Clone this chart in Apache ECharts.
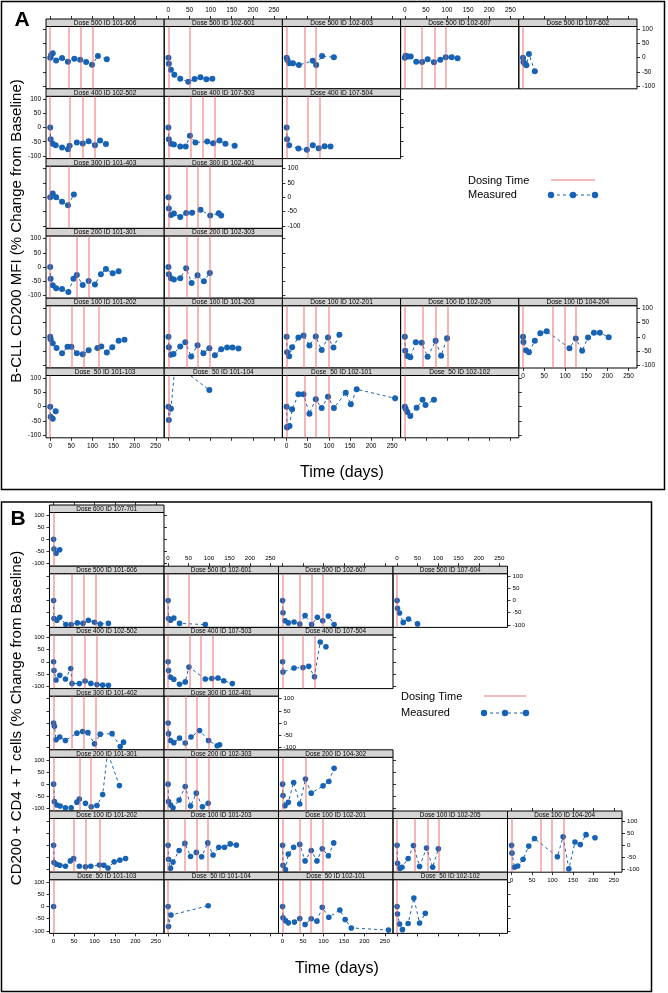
<!DOCTYPE html>
<html><head><meta charset="utf-8">
<script src="https://cdn.jsdelivr.net/npm/echarts@6/dist/echarts.min.js"></script>
<style>html,body{margin:0;padding:0;background:#fff}#c{width:668px;height:993px}</style>
</head><body><div id="c"></div>
<script>
const xTicks = [0, 50, 100, 150, 200, 250];
const yTicks = [-100, -50, 0, 50, 100];

// ---------- Panel A : B-CLL CD200 MFI ----------
const A_500_101_606 = [[0,0],[2,9],[6,15],[14,-10],[28,-1],[42,-14],[57,-4],[71,-7],[85,-15],[99,-25],[113,6],[134,-6]];
const A_500_101_606_dose = [0,43,73,100];
const A_500_102_601 = [[0,0],[1,-21],[6,-42],[14,-60],[28,-74],[47,-84],[62,-75],[76,-69],[90,-76],[104,-74]];
const A_500_102_601_dose = [0,50];
const A_500_102_603 = [[0,0],[2,-8],[7,-20],[15,-20],[29,-26],[62,-11],[70,-26],[84,6],[112,1]];
const A_500_102_603_dose = [0,43,70];
const A_500_102_607 = [[0,0],[2,7],[8,4],[14,4],[27,-14],[41,-15],[54,-6],[69,-16],[84,-7],[97,1],[111,1],[125,-2]];
const A_500_102_607_dose = [0,41,71,98];
const A_500_107_602 = [[0,0],[1,-15],[4,-21],[8,-27],[14,13],[28,-48]];
const A_500_107_602_dose = [0];
const A_400_102_502 = [[0,0],[1,-41],[6,-57],[13,-62],[28,-70],[42,-76],[46,-64],[63,-53],[77,-56],[91,-48],[106,-62],[118,-46],[132,-58]];
const A_400_102_502_dose = [0,46,76,105];
const A_400_107_503 = [[0,0],[1,-41],[6,-57],[13,-60],[28,-67],[41,-67],[51,-29],[64,-53],[92,-49],[106,-55],[121,-46],[135,-57],[157,-64]];
const A_400_107_503_dose = [0,53,81,109];
const A_400_107_504 = [[0,0],[1,-41],[6,-62],[28,-74],[48,-78],[62,-62],[76,-73],[90,-66],[104,-67]];
const A_400_107_504_dose = [0,49,78];
const A_300_101_403 = [[0,0],[6,13],[14,0],[28,-16],[42,-28],[56,10]];
const A_300_101_403_dose = [0,43];
const A_300_102_401 = [[0,0],[1,-39],[6,-62],[13,-57],[28,-69],[42,-55],[56,-54],[76,-44],[99,-64],[119,-56],[125,-64]];
const A_300_102_401_dose = [0,43,70,99];
const A_200_101_301 = [[0,0],[1,-41],[6,-64],[14,-74],[28,-77],[43,-87],[55,-41],[63,-28],[77,-63],[91,-49],[106,-61],[120,-25],[132,-7],[148,-22],[162,-15]];
const A_200_101_301_dose = [0,63,91];
const A_200_102_303 = [[0,0],[1,-25],[6,-39],[13,-44],[28,-39],[42,-4],[55,-56],[69,-29],[84,-50],[98,-21]];
const A_200_102_303_dose = [0,43,70,98];
const A_100_101_202 = [[0,0],[1,-8],[6,-22],[15,-39],[28,-57],[41,-35],[50,-35],[63,-57],[77,-61],[91,-47],[112,-39],[121,-34],[134,-55],[147,-36],[162,-14],[176,-10]];
const A_100_101_202_dose = [0,50,79,114];
const A_100_101_203 = [[0,0],[1,-36],[6,-63],[12,-60],[28,-34],[40,-19],[54,-69],[69,-29],[83,-57],[97,-40],[110,-64],[125,-43],[139,-37],[152,-37],[166,-41]];
const A_100_101_203_dose = [0,43,70,98];
const A_100_102_201 = [[0,0],[1,-54],[6,-68],[13,-36],[28,-2],[40,5],[54,-30],[69,1],[83,-46],[98,-2],[111,-37],[125,7]];
const A_100_102_201_dose = [0,41,70,99];
const A_100_102_205 = [[0,0],[1,-49],[6,-67],[13,-71],[26,-19],[40,-21],[54,-70],[73,-14],[86,-66],[100,-5]];
const A_100_102_205_dose = [0,42,73,101];
const A_100_104_204 = [[0,0],[1,-18],[7,-47],[14,-54],[28,-14],[41,13],[56,20],[110,-40],[125,-6],[140,-49],[154,-2],[168,14],[182,14],[203,-1]];
const A_100_104_204_dose = [0,70,98,126];
const A_50_101_103 = [[0,0],[1,-35],[6,-42],[13,-16]];
const A_50_101_103_dose = [0];
const A_50_101_104 = [[0,0],[1,-47],[6,-7],[16,150],[97,58]];
const A_50_101_104_dose = [0];
const A_50_102_101 = [[0,0],[1,-73],[2,-70],[7,-68],[13,-9],[28,43],[40,43],[54,-25],[69,26],[83,-5],[98,35],[112,-5],[140,49],[152,8],[166,61],[257,29]];
const A_50_102_101_dose = [0,42,70,99];
const A_50_102_102 = [[0,0],[2,-7],[6,-19],[13,-33],[28,-4],[42,24],[49,6],[69,24]];
const A_50_102_102_dose = [0];

// ---------- Panel B : CD200 + CD4 + T cells ----------
const B_600_107_701 = [[0,0],[1,-40],[6,-57],[15,-43]];
const B_600_107_701_dose = [0];
const B_500_101_606 = [[0,0],[1,-74],[8,-81],[15,-69],[30,-99],[43,-99],[58,-92],[72,-94],[85,-81],[100,-89],[114,-97],[134,-94]];
const B_500_101_606_dose = [0,45,73,102];
const B_500_102_601 = [[0,0],[1,-74],[6,-81],[14,-72],[28,-94],[91,-99]];
const B_500_102_601_dose = [0,50];
const B_500_102_607 = [[0,0],[1,-50],[6,-83],[14,-92],[28,-88],[42,-97],[55,-62],[71,-99],[85,-69],[98,-83],[112,-64],[126,-99]];
const B_500_102_607_dose = [0,42,71,98];
const B_500_107_604 = [[0,0],[1,-32],[6,-51],[15,-90],[28,-76],[50,-96]];
const B_500_107_604_dose = [0];
const B_400_102_502 = [[0,0],[1,-36],[6,-75],[15,-56],[29,-71],[42,-28],[45,-90],[63,-90],[77,-79],[91,-89],[106,-94],[120,-96],[134,-97]];
const B_400_102_502_dose = [0,45,77,106];
const B_400_107_503 = [[0,0],[1,-36],[6,-64],[14,-72],[28,-93],[42,-83],[51,-22],[91,-71],[107,-69],[122,-67],[136,-78],[157,-90]];
const B_400_107_503_dose = [0,53,80,108];
const B_400_107_504 = [[0,0],[1,-42],[28,-26],[50,-24],[64,-19],[78,-62],[92,81],[106,62]];
const B_400_107_504_dose = [0,49,78];
const B_300_101_402 = [[0,0],[2,-14],[6,-69],[15,-58],[29,-72],[57,-42],[71,-35],[84,-40],[100,-86],[114,-46],[143,-44],[163,-97],[171,-79]];
const B_300_101_402_dose = [0,45,73,102];
const B_300_102_401 = [[0,0],[1,-44],[6,-72],[14,-81],[28,-62],[42,-83],[56,-58],[77,-31],[99,-72],[120,-94],[126,-90]];
const B_300_102_401_dose = [0,43,71,99];
const B_200_101_301 = [[0,0],[2,-72],[8,-86],[16,-90],[29,-97],[43,-97],[57,-74],[63,-61],[78,-79],[92,-93],[106,-88],[120,-43],[132,131],[161,-6]];
const B_200_101_301_dose = [0,63,92];
const B_200_102_303 = [[0,0],[1,-72],[6,-86],[12,-97],[27,-65],[42,-10],[55,-90],[69,-37],[84,-93],[98,-79]];
const B_200_102_303_dose = [0,42,71,99];
const B_200_104_302 = [[0,0],[1,-47],[6,-89],[14,-75],[27,7],[42,-82],[56,21],[70,-37],[99,-7],[113,11],[126,65]];
const B_200_104_302_dose = [0,56];
const B_100_101_202 = [[0,0],[1,-71],[7,-78],[15,-82],[29,-86],[41,-64],[49,-54],[63,-86],[78,-88],[91,-86],[112,-81],[123,-82],[133,-93],[148,-68],[162,-61],[176,-54]];
const B_100_101_202_dose = [0,50,79,114];
const B_100_101_203 = [[0,0],[1,-57],[6,-94],[12,-69],[27,-21],[41,8],[55,-46],[69,-29],[82,-47],[97,10],[110,-40],[124,-8],[138,-8],[152,6],[167,1]];
const B_100_101_203_dose = [0,41,69,98];
const B_100_102_201 = [[0,0],[1,-82],[7,-100],[14,-36],[27,-8],[42,4],[55,-64],[70,-21],[84,-64],[97,-14],[112,-43],[125,10]];
const B_100_102_201_dose = [0,42,70,98];
const B_100_102_205 = [[0,0],[1,-74],[7,-94],[12,-90],[27,-54],[40,-1],[55,-87],[72,-11],[87,-90],[101,-14]];
const B_100_102_205_dose = [0,42,74,102];
const B_100_104_204 = [[0,0],[1,-32],[7,-90],[15,-85],[28,-57],[42,-3],[56,28],[112,-47],[126,35],[140,-97],[155,14],[168,3],[182,44],[204,31]];
const B_100_104_204_dose = [0,72,99,127];
const B_50_101_103 = [[0,0]];
const B_50_101_103_dose = [0];
const B_50_101_104 = [[0,0],[1,-82],[7,-35],[98,3]];
const B_50_101_104_dose = [0];
const B_50_102_101 = [[0,0],[1,-46],[7,-58],[14,-67],[29,-64],[42,-49],[55,-74],[70,-50],[84,-60],[97,-3],[113,-44],[140,-14],[153,-53],[168,-88],[259,-97]];
const B_50_102_101_dose = [0,42,70,98];
const B_50_102_102 = [[0,0],[1,-31],[6,-72],[13,-95],[27,-70],[41,35],[55,-68],[69,-28]];
const B_50_102_102_dose = [0];

// ---------- layout ----------
const panelsA = [
  {row:0,col:0,label:'Dose 500 ID 101-606',data:A_500_101_606,dose:A_500_101_606_dose},
  {row:0,col:1,label:'Dose 500 ID 102-601',data:A_500_102_601,dose:A_500_102_601_dose},
  {row:0,col:2,label:'Dose 500 ID 102-603',data:A_500_102_603,dose:A_500_102_603_dose},
  {row:0,col:3,label:'Dose 500 ID 102-607',data:A_500_102_607,dose:A_500_102_607_dose},
  {row:0,col:4,label:'Dose 500 ID 107-602',data:A_500_107_602,dose:A_500_107_602_dose},
  {row:1,col:0,label:'Dose 400 ID 102-502',data:A_400_102_502,dose:A_400_102_502_dose},
  {row:1,col:1,label:'Dose 400 ID 107-503',data:A_400_107_503,dose:A_400_107_503_dose},
  {row:1,col:2,label:'Dose 400 ID 107-504',data:A_400_107_504,dose:A_400_107_504_dose},
  {row:2,col:0,label:'Dose 300 ID 101-403',data:A_300_101_403,dose:A_300_101_403_dose},
  {row:2,col:1,label:'Dose 300 ID 102-401',data:A_300_102_401,dose:A_300_102_401_dose},
  {row:3,col:0,label:'Dose 200 ID 101-301',data:A_200_101_301,dose:A_200_101_301_dose},
  {row:3,col:1,label:'Dose 200 ID 102-303',data:A_200_102_303,dose:A_200_102_303_dose},
  {row:4,col:0,label:'Dose 100 ID 101-202',data:A_100_101_202,dose:A_100_101_202_dose},
  {row:4,col:1,label:'Dose 100 ID 101-203',data:A_100_101_203,dose:A_100_101_203_dose},
  {row:4,col:2,label:'Dose 100 ID 102-201',data:A_100_102_201,dose:A_100_102_201_dose},
  {row:4,col:3,label:'Dose 100 ID 102-205',data:A_100_102_205,dose:A_100_102_205_dose},
  {row:4,col:4,label:'Dose 100 ID 104-204',data:A_100_104_204,dose:A_100_104_204_dose},
  {row:5,col:0,label:'Dose  50 ID 101-103',data:A_50_101_103,dose:A_50_101_103_dose},
  {row:5,col:1,label:'Dose  50 ID 101-104',data:A_50_101_104,dose:A_50_101_104_dose},
  {row:5,col:2,label:'Dose  50 ID 102-101',data:A_50_102_101,dose:A_50_102_101_dose},
  {row:5,col:3,label:'Dose  50 ID 102-102',data:A_50_102_102,dose:A_50_102_102_dose}
];
const panelsB = [
  {row:0,col:0,label:'Dose 600 ID 107-701',data:B_600_107_701,dose:B_600_107_701_dose},
  {row:1,col:0,label:'Dose 500 ID 101-606',data:B_500_101_606,dose:B_500_101_606_dose},
  {row:1,col:1,label:'Dose 500 ID 102-601',data:B_500_102_601,dose:B_500_102_601_dose},
  {row:1,col:2,label:'Dose 500 ID 102-607',data:B_500_102_607,dose:B_500_102_607_dose},
  {row:1,col:3,label:'Dose 500 ID 107-604',data:B_500_107_604,dose:B_500_107_604_dose},
  {row:2,col:0,label:'Dose 400 ID 102-502',data:B_400_102_502,dose:B_400_102_502_dose},
  {row:2,col:1,label:'Dose 400 ID 107-503',data:B_400_107_503,dose:B_400_107_503_dose},
  {row:2,col:2,label:'Dose 400 ID 107-504',data:B_400_107_504,dose:B_400_107_504_dose},
  {row:3,col:0,label:'Dose 300 ID 101-402',data:B_300_101_402,dose:B_300_101_402_dose},
  {row:3,col:1,label:'Dose 300 ID 102-401',data:B_300_102_401,dose:B_300_102_401_dose},
  {row:4,col:0,label:'Dose 200 ID 101-301',data:B_200_101_301,dose:B_200_101_301_dose},
  {row:4,col:1,label:'Dose 200 ID 102-303',data:B_200_102_303,dose:B_200_102_303_dose},
  {row:4,col:2,label:'Dose 200 ID 104-302',data:B_200_104_302,dose:B_200_104_302_dose},
  {row:5,col:0,label:'Dose 100 ID 101-202',data:B_100_101_202,dose:B_100_101_202_dose},
  {row:5,col:1,label:'Dose 100 ID 101-203',data:B_100_101_203,dose:B_100_101_203_dose},
  {row:5,col:2,label:'Dose 100 ID 102-201',data:B_100_102_201,dose:B_100_102_201_dose},
  {row:5,col:3,label:'Dose 100 ID 102-205',data:B_100_102_205,dose:B_100_102_205_dose},
  {row:5,col:4,label:'Dose 100 ID 104-204',data:B_100_104_204,dose:B_100_104_204_dose},
  {row:6,col:0,label:'Dose  50 ID 101-103',data:B_50_101_103,dose:B_50_101_103_dose},
  {row:6,col:1,label:'Dose  50 ID 101-104',data:B_50_101_104,dose:B_50_101_104_dose},
  {row:6,col:2,label:'Dose  50 ID 102-101',data:B_50_102_101,dose:B_50_102_101_dose},
  {row:6,col:3,label:'Dose  50 ID 102-102',data:B_50_102_102,dose:B_50_102_102_dose}
];

const FONT = 'Liberation Sans, Arial, Helvetica, sans-serif';
const BLUE = '#1662b4';
const RED = 'rgba(232,90,90,0.55)';
const STRIP = '#d4d4d4';

const cfgA = {colLeft:[46,164.2,282.4,400.6,518.8], colW:118.2, top:19, rowH:69.8, strip:7.5, plotH:62.3, yMax:109, fs:6.5, sfs:6.6, sym:6, leftLabelParity:1};
const cfgB = {colLeft:[49.5,164,278.5,393,507.5], colW:114.5, top:505, rowH:61.2, strip:7.5, plotH:53.7, yMax:110.5, fs:6.2, sfs:6.4, sym:5.6, leftLabelParity:0};

const option = {animation:false, grid:[], xAxis:[], yAxis:[], series:[], graphic:[]};

function xAxisCfg(gi, pos, show, labels, offset, cfg){
  return {gridIndex:gi, type:'value', position:pos, min:-10, max:270, offset:offset, show:show,
    axisLine:{show:false, onZero:false}, splitLine:{show:false},
    axisTick:{show:true, inside:false, length:3, lineStyle:{color:'#000',width:0.8}, customValues:xTicks},
    axisLabel:{show:labels, customValues:xTicks, fontSize:cfg.fs, color:'#000', margin:5, fontFamily:FONT}};
}
function yAxisCfg(gi, pos, show, labels, cfg){
  return {gridIndex:gi, type:'value', position:pos, min:-cfg.yMax, max:cfg.yMax, show:show,
    axisLine:{show:false, onZero:false}, splitLine:{show:false},
    axisTick:{show:true, inside:false, length:3, lineStyle:{color:'#000',width:0.8}, customValues:yTicks},
    axisLabel:{show:labels, customValues:yTicks, fontSize:cfg.fs, color:'#000', margin:5, fontFamily:FONT}};
}

function build(list, cfg){
  const bottomRow = {}, topRow = {}, rightCol = {};
  list.forEach(p => {
    bottomRow[p.col] = Math.max(bottomRow[p.col] ?? -1, p.row);
    topRow[p.col] = Math.min(topRow[p.col] ?? 99, p.row);
    rightCol[p.row] = Math.max(rightCol[p.row] ?? -1, p.col);
  });
  list.forEach(p => {
    const gi = option.grid.length;
    const left = cfg.colLeft[p.col];
    const rowTop = cfg.top + cfg.rowH * p.row;
    const plotTop = rowTop + cfg.strip;
    option.grid.push({left:left, top:plotTop, width:cfg.colW, height:cfg.plotH, show:true, borderColor:'#000', borderWidth:1, backgroundColor:'transparent'});
    const isBottom = bottomRow[p.col] === p.row, isTop = topRow[p.col] === p.row;
    const isLeft = p.col === 0, isRight = rightCol[p.row] === p.col;
    const leftLab = (p.row % 2) === cfg.leftLabelParity;
    const xi = option.xAxis.length;
    option.xAxis.push(xAxisCfg(gi, 'bottom', isBottom, isBottom && p.col % 2 === 0, 0, cfg));
    if (isTop) option.xAxis.push(xAxisCfg(gi, 'top', true, p.col % 2 === 1, cfg.strip, cfg));
    const yi = option.yAxis.length;
    option.yAxis.push(yAxisCfg(gi, 'left', isLeft, isLeft && leftLab, cfg));
    if (isRight) option.yAxis.push(yAxisCfg(gi, 'right', true, !leftLab, cfg));

    option.series.push({type:'line', xAxisIndex:xi, yAxisIndex:yi, data:[], z:1, silent:true,
      markLine:{silent:true, symbol:['none','none'], label:{show:false}, animation:false,
        emphasis:{disabled:true}, lineStyle:{color:RED, width:1.6, type:'solid'},
        data:p.dose.map(d => ({xAxis:d}))}});
    option.series.push({type:'line', xAxisIndex:xi, yAxisIndex:yi, data:p.data, z:3,
      symbol:'circle', symbolSize:cfg.sym, showSymbol:true, showAllSymbol:true, clip:true,
      itemStyle:{color:BLUE}, lineStyle:{color:BLUE, width:1, type:[3,3]},
      emphasis:{disabled:true}, silent:true});

    option.graphic.push({type:'rect', shape:{x:left, y:rowTop, width:cfg.colW, height:cfg.strip},
      style:{fill:STRIP, stroke:'#000', lineWidth:1}, z:5});
    option.graphic.push({type:'text', x:left + cfg.colW/2, y:rowTop + cfg.strip/2 + 0.5, z:6,
      style:{text:p.label, fill:'#000', font:cfg.sfs + 'px ' + FONT, textAlign:'center', textVerticalAlign:'middle'}});
  });
}
build(panelsA, cfgA);
build(panelsB, cfgB);

// frames, titles, legends
option.graphic.push(
  {type:'rect', shape:{x:1.5, y:1.5, width:663, height:488}, style:{fill:'none', stroke:'#000', lineWidth:1.5}},
  {type:'rect', shape:{x:1.5, y:502, width:650, height:489.5}, style:{fill:'none', stroke:'#000', lineWidth:1.5}},
  {type:'text', x:22, y:20, style:{text:'A', font:'bold 21px ' + FONT, fill:'#000', textAlign:'center', textVerticalAlign:'middle'}},
  {type:'text', x:18, y:519, style:{text:'B', font:'bold 21px ' + FONT, fill:'#000', textAlign:'center', textVerticalAlign:'middle'}},
  {type:'text', x:17, y:231, rotation:Math.PI/2, style:{text:'B-CLL CD200 MFI (% Change from Baseline)', font:'15px ' + FONT, fill:'#000', textAlign:'center', textVerticalAlign:'middle'}},
  {type:'text', x:342, y:473, style:{text:'Time (days)', font:'16px ' + FONT, fill:'#000', textAlign:'center', textVerticalAlign:'middle'}},
  {type:'text', x:17, y:718, rotation:Math.PI/2, style:{text:'CD200 + CD4 + T cells (% Change from Baseline)', font:'15px ' + FONT, fill:'#000', textAlign:'center', textVerticalAlign:'middle'}},
  {type:'text', x:337, y:969, style:{text:'Time (days)', font:'16px ' + FONT, fill:'#000', textAlign:'center', textVerticalAlign:'middle'}}
);
function legend(tx, ty1, ty2, lx1, lx2){
  option.graphic.push(
    {type:'text', x:tx, y:ty1, style:{text:'Dosing Time', font:'11px ' + FONT, fill:'#000', textVerticalAlign:'middle'}},
    {type:'line', shape:{x1:lx1, y1:ty1 - 1, x2:lx2, y2:ty1 - 1}, style:{stroke:RED, lineWidth:1.6}},
    {type:'text', x:tx, y:ty2, style:{text:'Measured', font:'11px ' + FONT, fill:'#000', textVerticalAlign:'middle'}},
    {type:'line', shape:{x1:lx1, y1:ty2, x2:lx2, y2:ty2}, style:{stroke:BLUE, lineWidth:1, lineDash:[3,3]}},
    {type:'circle', shape:{cx:lx1, cy:ty2, r:3.2}, style:{fill:BLUE}},
    {type:'circle', shape:{cx:(lx1 + lx2)/2, cy:ty2, r:3.2}, style:{fill:BLUE}},
    {type:'circle', shape:{cx:lx2, cy:ty2, r:3.2}, style:{fill:BLUE}}
  );
}
legend(468, 181, 195, 551, 595);
legend(401, 697, 713, 484, 526);

const chart = echarts.init(document.getElementById('c'), null, {renderer:'canvas'});
chart.setOption(option);
</script></body></html>
